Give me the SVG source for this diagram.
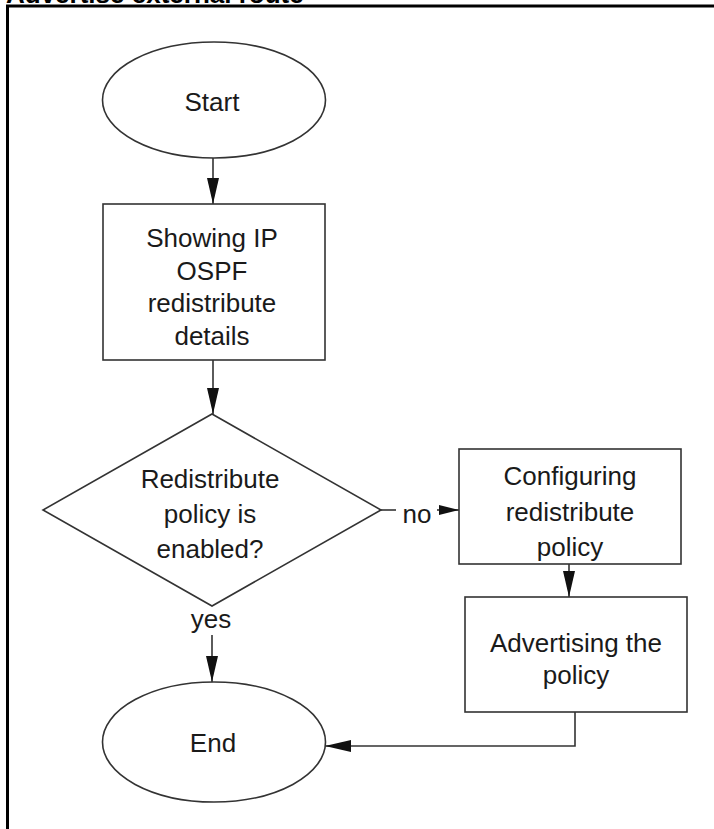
<svg xmlns="http://www.w3.org/2000/svg" width="714" height="829" viewBox="0 0 714 829">
<defs>
<style>
.shape{fill:#fff;stroke:#333;stroke-width:1.6}
.conn{fill:none;stroke:#333;stroke-width:1.6}
.t{font-family:"Liberation Sans",Arial,Helvetica,sans-serif;font-size:26px;fill:#1a1a1a;text-anchor:middle}
.title{font-family:"Liberation Sans",Arial,Helvetica,sans-serif;font-size:26px;font-weight:bold;fill:#000}
</style>
<marker id="arr" markerUnits="userSpaceOnUse" markerWidth="26" markerHeight="12" refX="26" refY="6" orient="auto">
<path d="M0,0 L26,6 L0,12 Z" fill="#111"/>
</marker>
<marker id="arrS" markerUnits="userSpaceOnUse" markerWidth="20" markerHeight="10" refX="20" refY="5" orient="auto">
<path d="M0,0 L20,5 L0,10 Z" fill="#111"/>
</marker>
</defs>
<rect width="714" height="829" fill="#fff"/>
<text class="title" x="6" y="3">Advertise external route</text>
<rect x="7.5" y="6" width="720" height="840" fill="none" stroke="#000" stroke-width="3"/>

<g id="connectors">
<line class="conn" x1="213" y1="158" x2="213" y2="204" marker-end="url(#arr)"/>
<line class="conn" x1="213" y1="360" x2="213" y2="414" marker-end="url(#arr)"/>
<line class="conn" x1="381" y1="510" x2="396" y2="510"/>
<text class="t" x="417" y="523">no</text>
<line class="conn" x1="437" y1="510" x2="459" y2="510" marker-end="url(#arrS)"/>
<line class="conn" x1="569" y1="564" x2="569" y2="597" marker-end="url(#arr)"/>
<text class="t" x="211" y="628">yes</text>
<line class="conn" x1="212" y1="635" x2="212" y2="682" marker-end="url(#arr)"/>
<polyline class="conn" points="575,712 575,746 325,746" marker-end="url(#arr)"/>
</g>

<g id="start">
<ellipse class="shape" cx="214" cy="100" rx="111.5" ry="58"/>
<text class="t" x="212" y="111">Start</text>
</g>

<g id="showing">
<rect class="shape" x="103" y="204" width="222" height="156"/>
<text class="t" x="212" y="247">Showing IP</text>
<text class="t" x="212" y="279.5">OSPF</text>
<text class="t" x="212" y="312">redistribute</text>
<text class="t" x="212" y="344.5">details</text>
</g>

<g id="decision">
<polygon class="shape" points="212,414 381,510 212,606 43,510"/>
<text class="t" x="210" y="488">Redistribute</text>
<text class="t" x="210" y="523">policy is</text>
<text class="t" x="210" y="558">enabled?</text>
</g>

<g id="configuring">
<rect class="shape" x="459" y="449" width="222" height="115"/>
<text class="t" x="570" y="485">Configuring</text>
<text class="t" x="570" y="521">redistribute</text>
<text class="t" x="570" y="556">policy</text>
</g>

<g id="advertising">
<rect class="shape" x="465" y="597" width="222" height="115"/>
<text class="t" x="576" y="652">Advertising the</text>
<text class="t" x="576" y="684">policy</text>
</g>

<g id="end">
<ellipse class="shape" cx="214" cy="742" rx="111.5" ry="60"/>
<text class="t" x="213" y="752">End</text>
</g>
</svg>
